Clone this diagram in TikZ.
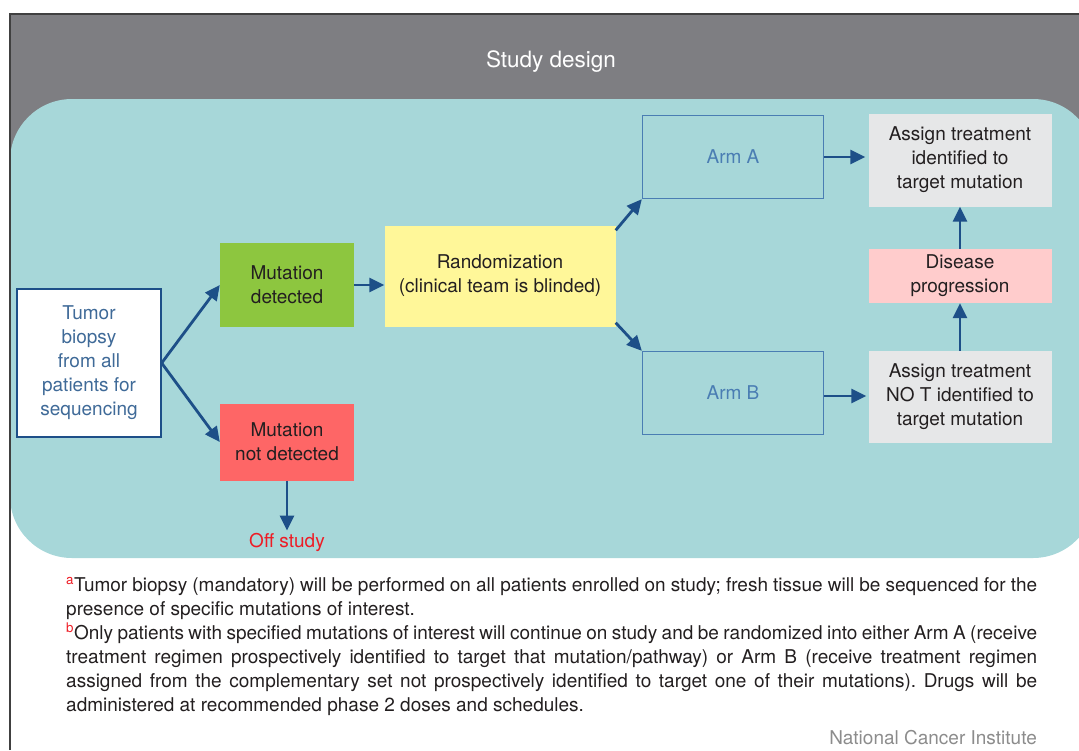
\documentclass[tikz,border=0pt]{standalone}
\usepackage{fontspec}
\setmainfont{TeX Gyre Heros}
\usepackage{tikz}
\usetikzlibrary{arrows.meta}
\frenchspacing
\definecolor{design_gray}{HTML}{7E7E82}
\definecolor{design_teal}{HTML}{A7D7D9}
\definecolor{design_blue}{HTML}{1D4F88}
\definecolor{design_line}{HTML}{4A7DB3}
\definecolor{design_text}{HTML}{231F20}
\definecolor{design_green}{HTML}{8DC63F}
\definecolor{design_red}{HTML}{FE6666}
\definecolor{design_yellow}{HTML}{FFF799}
\definecolor{design_pink}{HTML}{FFCCCC}
\definecolor{design_light}{HTML}{E6E7E8}
\definecolor{design_offred}{HTML}{EE1C25}
\tikzstyle{design_font} = [font = \fontsize{19}{24}\selectfont]
\tikzstyle{design_box} = [design_font, inner sep = 0, align = center, text = design_text]
\tikzstyle{design_arm} = [design_box, draw = design_line, line width = 1.3, text = design_line, minimum width = 181, minimum height = 83]
\tikzstyle{design_assign} = [design_box, fill = design_light, minimum width = 183]
\tikzstyle{design_arrow} = [design_blue, line width = 2.8, -{Triangle[length = 15pt, width = 14pt]}]

\begin{document}
\begin{tikzpicture}[x = 1pt, y = -1pt]
        \useasboundingbox (0,0) rectangle (1079,750);
        \clip (0,0) rectangle (1079,750);
        \fill [design_gray] (10,14) rectangle (1079,200);
        \fill [design_teal, rounded corners = 62] (10,99) rectangle (1095,558);
        \draw [line width = 2, black!75] (10,750) -- (10,14) -- (1079,14);
        \node [text = white, font = \fontsize{22.5}{27}\selectfont] (title) at (551,62) {Study design};

        \node [design_box, draw = design_blue, line width = 1.3, fill = white, text = design_line!85!black, minimum width = 144, minimum height = 148] (tumor_biopsy) at (89,363) {Tumor\\biopsy\\from all\\patients for\\sequencing};
        \node [design_box, fill = design_green, minimum width = 134, minimum height = 84] (mutation_detected) at (287,285) {Mutation\\detected};
        \node [design_box, fill = design_red, minimum width = 134, minimum height = 77] (mutation_not_detected) at (287,442) {Mutation\\not detected};
        \node [design_box, text = design_offred, inner sep = 2] (off_study) at (287,542) {Off study};
        \node [design_box, fill = design_yellow, minimum width = 231, minimum height = 101] (randomization) at (500,276) {Randomization\\(clinical team is blinded)};
        \node [design_arm] (arm_a) at (733,157) {Arm A};
        \node [design_arm] (arm_b) at (733,393) {Arm B};
        \node [design_assign, minimum height = 93] (assign_target) at (960,160) {Assign treatment\\identified to\\target mutation};
        \node [design_box, fill = design_pink, minimum width = 183, minimum height = 54] (disease_progression) at (960,276) {Disease\\progression};
        \node [design_assign, minimum height = 92] (assign_no_target) at (960,397) {Assign treatment\\NO T identified to\\target mutation};

        \draw [design_arrow] (tumor_biopsy.east) -- (mutation_detected.west);
        \draw [design_arrow] (tumor_biopsy.east) -- (mutation_not_detected.west);
        \draw [design_arrow] (mutation_not_detected.south) -- (off_study.north);
        \draw [design_arrow] (mutation_detected.east) -- (mutation_detected.east -| randomization.west);
        \draw [design_arrow] ([yshift = -5pt] randomization.north east) -- (arm_a.south west);
        \draw [design_arrow] ([yshift = 4pt] randomization.south east) -- (arm_b.north west);
        \draw [design_arrow] (arm_a.east) -- ([xshift = -3pt] arm_a.east -| assign_target.west);
        \draw [design_arrow] ([yshift = -3pt] arm_b.east) -- ([xshift = -2pt, yshift = -3pt] arm_b.east -| assign_no_target.west);
        \draw [design_arrow] (disease_progression.north) -- (assign_target.south);
        \draw [design_arrow] (assign_no_target.north) -- (disease_progression.south);

        \node [design_font, text = design_text, inner sep = 0, anchor = north west, text width = 971, align = justify] (footnotes) at (66,577) {\textsuperscript{\color{design_offred}a}Tumor biopsy (mandatory) will be performed on all patients enrolled on study; fresh tissue will be sequenced for the\linebreak presence of specific mutations of interest.\par
        \textsuperscript{\color{design_offred}b}Only patients with specified mutations of interest will continue on study and be randomized into either Arm A (receive\linebreak treatment regimen prospectively identified to target that mutation/pathway) or Arm B (receive treatment regimen\linebreak assigned from the complementary set not prospectively identified to target one of their mutations). Drugs will be\linebreak administered at recommended phase 2 doses and schedules.};
        \node [design_font, text = black!45, inner sep = 0, anchor = base east] (source) at (1037,744) {National Cancer Institute};
    \end{tikzpicture}
\end{document}
